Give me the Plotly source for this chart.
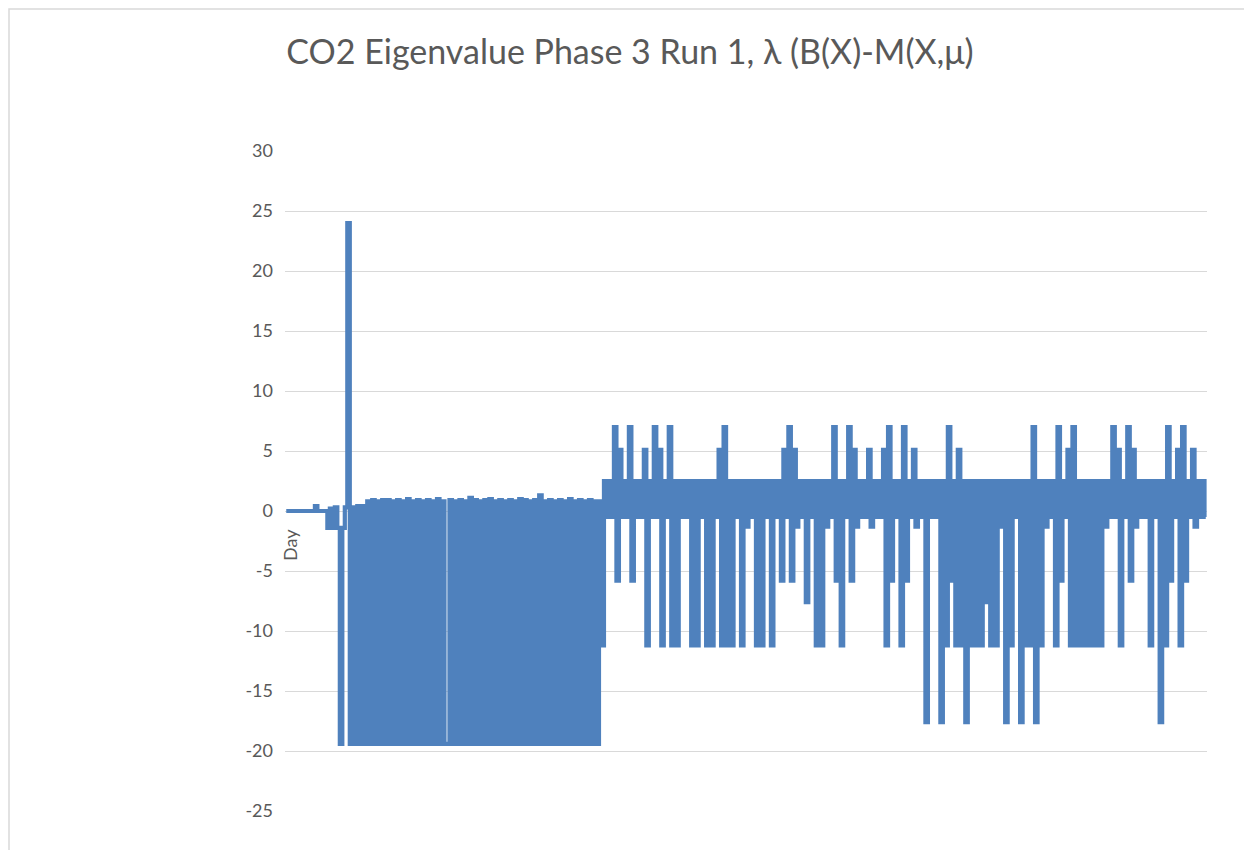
import plotly.graph_objects as go

title_text = "CO2 Eigenvalue Phase 3 Run 1, λ (B(X)-M(X,μ)"
x_title = "Day"
y_ticks = [30, 25, 20, 15, 10, 5, 0, -5, -10, -15, -20, -25]
y_tick_labels = [str(v) for v in y_ticks]

# eigenvalue, one value per day
eigen_values = [
    0, 0, 0, 0, 0, 0, 0, 0, 0, 0,
    0, 0, 0.4, 0, 0, 0, 0, -1.4, 0.2, -1.4,
    0.3, -1.4, -19.4, -1.4, 0.3, 24.0, -19.4, 0.3, -19.4, 0.4,
    -19.4, 0.4, -19.4, 0.8, -19.4, 0.9, -19.4, 0.8, -19.4, 0.9,
    -19.4, 0.9, -19.4, 0.8, -19.4, 0.9, -19.4, 0.8, -19.4, 1.0,
    -19.4, 0.8, -19.4, 0.9, -19.4, 0.8, -19.4, 0.9, -19.4, 0.8,
    -19.4, 1.0, -19.4, 0.8, -19.4, -19.4, 0.9, -19.4, 0.8, -19.4,
    0.9, -19.4, 0.8, -19.4, 1.1, -19.4, 0.9, -19.4, 0.8, -19.4,
    0.9, -19.4, 1.0, -19.4, 0.8, -19.4, 0.9, -19.4, 0.8, -19.4,
    0.9, -19.4, 0.8, -19.4, 1.0, -19.4, 0.9, -19.4, 0.8, -19.4,
    0.9, -19.4, 1.3, -19.4, 0.8, -19.4, 0.9, -19.4, 0.8, -19.4,
    0.9, -19.4, 0.8, -19.4, 1.0, -19.4, 0.8, -19.4, 0.9, -19.4,
    0.8, -19.4, 0.9, -19.4, 0.8, -19.4, 0.8, -11.2, 2.5, -0.5,
    2.5, -0.5, 7.0, -5.8, 5.1, -0.5, 2.5, -0.5, 7.0, -5.8,
    2.5, -0.5, 2.5, -0.5, 5.1, -11.2, 2.5, -0.5, 7.0, -0.5,
    5.1, -11.2, 2.5, -0.5, 7.0, -11.2, 2.5, -11.2, 2.5, -0.5,
    2.5, -0.5, 2.5, -11.2, 2.5, -11.2, 2.5, -0.5, 2.5, -11.2,
    2.5, -11.2, 2.5, -0.5, 5.1, -11.2, 7.0, -11.2, 2.5, -11.2,
    2.5, -0.5, 2.5, -11.2, 2.5, -1.3, 2.5, -0.5, 2.5, -11.2,
    2.5, -11.2, 2.5, -0.5, 2.5, -11.2, 2.5, -0.5, 2.5, -5.8,
    5.1, -0.5, 7.0, -5.8, 5.1, -1.3, 2.5, -0.5, 2.5, -7.6,
    2.5, -0.5, 2.5, -11.2, 2.5, -11.2, 2.5, -1.3, 2.5, -0.5,
    7.0, -5.8, 2.5, -11.2, 2.5, -0.5, 7.0, -5.8, 5.1, -1.3,
    2.5, -0.5, 2.5, -0.5, 5.1, -1.3, 2.5, -0.5, 2.5, -0.5,
    5.1, -11.2, 7.0, -5.8, 2.5, -0.5, 2.5, -11.2, 7.0, -5.8,
    2.5, -0.5, 5.1, -1.3, 2.5, -0.5, 2.5, -17.6, 2.5, -0.5,
    2.5, -0.5, 2.5, -17.6, 2.5, -11.2, 7.0, -5.8, 2.5, -11.2,
    5.1, -11.2, 2.5, -17.6, 2.5, -11.2, 2.5, -11.2, 2.5, -11.2,
    2.5, -7.6, 2.5, -11.2, 2.5, -11.2, 2.5, -1.3, 2.5, -17.6,
    2.5, -11.2, 2.5, -0.5, 2.5, -17.6, 2.5, -11.2, 2.5, -11.2,
    7.0, -17.6, 2.5, -11.2, 2.5, -1.3, 2.5, -0.5, 2.5, -11.2,
    7.0, -5.8, 2.5, -0.5, 5.1, -11.2, 7.0, -11.2, 2.5, -11.2,
    2.5, -11.2, 2.5, -11.2, 2.5, -11.2, 2.5, -11.2, 2.5, -1.3,
    2.5, -0.5, 7.0, -0.5, 5.1, -11.2, 2.5, -0.5, 7.0, -5.8,
    5.1, -1.3, 2.5, -0.5, 2.5, -0.5, 2.5, -11.2, 2.5, -0.5,
    2.5, -17.6, 2.5, -11.2, 7.0, -5.8, 2.5, -0.5, 5.1, -11.2,
    7.0, -5.8, 2.5, -0.5, 5.1, -1.3, 2.5, -0.5, 2.5, -0.5,
]
days = list(range(1, len(eigen_values) + 1))

# the page adds an 8px body margin, so figure coords = screen coords - 8
OFF = 8
W, H = 1252 - OFF, 850 - OFF
L, R, T, B = 285 - OFF, 1207 - OFF, 151 - OFF, 811 - OFF

fig = go.Figure()
fig.add_trace(go.Scatter(
    x=days, y=eigen_values, mode="lines",
    line=dict(color="#4F81BD", width=4.2, shape="hvh"),
    hoverinfo="skip", showlegend=False,
))

def px_to_paper_x(px):
    return (px - OFF - L) / (R - L)

def px_to_paper_y(py):
    return (B - (py - OFF)) / (B - T)

fig.update_layout(
    width=W, height=H,
    margin=dict(l=L, r=W - R, t=T, b=H - B, pad=0),
    paper_bgcolor="white", plot_bgcolor="white",
    font=dict(family="Lato, Open Sans, sans-serif", color="#595959"),
    title=dict(text=title_text, x=0.5, xref="container", xanchor="center",
               y=1 - (52 - OFF) / H, yref="container", yanchor="middle",
               font=dict(size=34, color="#595959", family="Lato, Open Sans, sans-serif")),
    xaxis=dict(range=[days[0] - 0.5, days[-1] + 0.5], showgrid=False, showticklabels=False,
               zeroline=False, showline=False, ticks=""),
    yaxis=dict(range=[y_ticks[-1], y_ticks[0]], tickvals=y_ticks, ticktext=y_tick_labels,
               showgrid=True, gridcolor="#D9D9D9", gridwidth=1.3, zeroline=False,
               showline=False, ticks="", tickfont=dict(size=18, color="#595959"),
               ticklabelstandoff=11),
    annotations=[dict(text=x_title, xref="paper", yref="paper",
                      x=px_to_paper_x(290), y=px_to_paper_y(545),
                      textangle=-90, showarrow=False,
                      font=dict(size=18, color="#595959"),
                      xanchor="center", yanchor="middle")],
    shapes=[dict(type="rect", xref="paper", yref="paper", layer="below",
                 x0=px_to_paper_x(OFF + 1), x1=px_to_paper_x(1246),
                 y0=px_to_paper_y(880), y1=px_to_paper_y(OFF + 1),
                 line=dict(color="#D9D9D9", width=1.5), fillcolor="rgba(0,0,0,0)")],
)

fig.write_html("out.html")
